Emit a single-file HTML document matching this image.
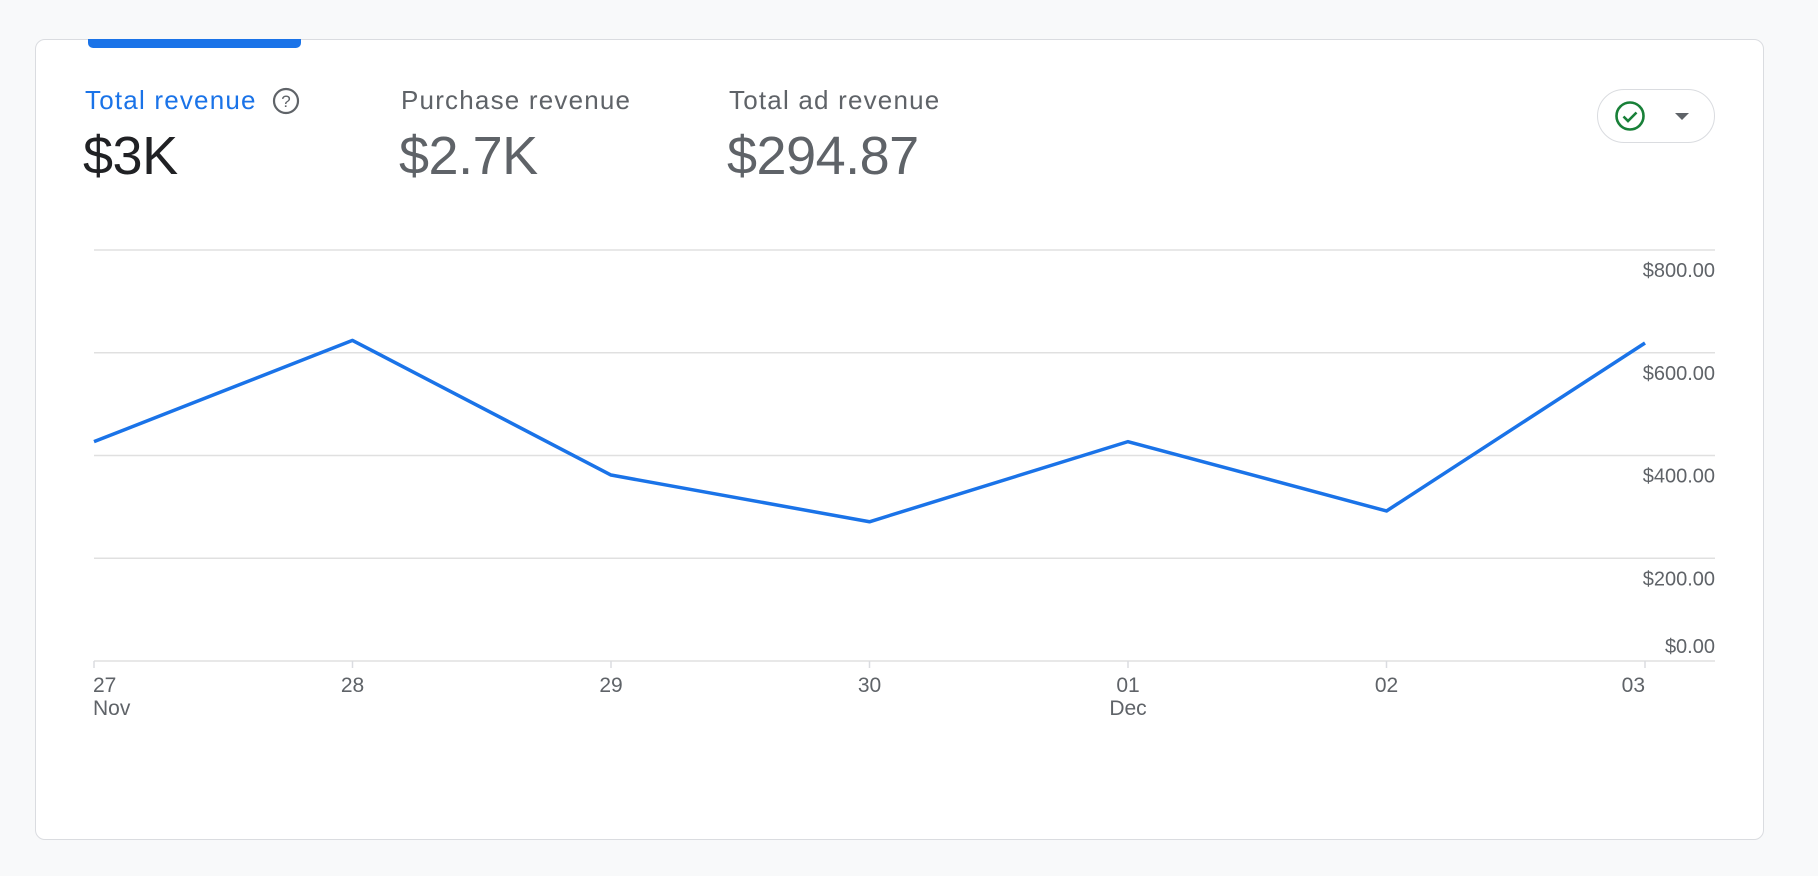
<!DOCTYPE html>
<html><head><meta charset="utf-8"><style>
body{margin:0;width:1818px;height:876px;background:#f8f9fa;font-family:"Liberation Sans",Arial,sans-serif;overflow:hidden;position:relative}
.card{position:absolute;left:35px;top:39px;width:1729px;height:801px;background:#fff;border:1px solid #dadce0;border-radius:10px;box-sizing:border-box}
.tab{position:absolute;left:88px;top:39px;width:213px;height:9px;background:#1a73e8;border-radius:0 0 5px 5px}
.lbl{position:absolute;font-size:26px;color:#5f6368;top:85px;letter-spacing:1.2px}
.val{position:absolute;font-size:54px;color:#5f6368;top:125px;letter-spacing:-0.5px}
</style></head><body>
<div class="card"></div>
<div class="tab"></div>
<div class="lbl" style="left:85px;color:#1a73e8">Total revenue</div>
<svg style="position:absolute;left:271px;top:86px" width="30" height="30"><circle cx="15" cy="15" r="12" fill="none" stroke="#5f6368" stroke-width="2.2"/><text x="15" y="21" font-size="17" text-anchor="middle" fill="#5f6368" font-family="Liberation Sans">?</text></svg>
<div class="val" style="left:83px;color:#202124">$3K</div>
<div class="lbl" style="left:401px">Purchase revenue</div>
<div class="val" style="left:399px">$2.7K</div>
<div class="lbl" style="left:729px">Total ad revenue</div>
<div class="val" style="left:727px">$294.87</div>
<div style="position:absolute;left:1597px;top:89px;width:118px;height:54px;border:1.5px solid #dadce0;border-radius:27px;box-sizing:border-box">
<svg style="position:absolute;left:16px;top:10px" width="32" height="32"><circle cx="16" cy="16" r="13.5" fill="none" stroke="#188038" stroke-width="2.6"/><path d="M9.5 16.5l4.5 4.5 8.5-8.5" fill="none" stroke="#188038" stroke-width="2.6"/></svg>
<svg style="position:absolute;left:76px;top:20px" width="16" height="12"><path d="M1 3h14l-7 7z" fill="#5f6368"/></svg>
</div>
<svg id="chart" style="position:absolute;left:0;top:0" width="1818" height="876"></svg>
<script>
const days=["27","28","29","30","01","02","03"];
const months=["Nov","","","","Dec","",""];
const revenue=[427,624,362,271,427,292,619];
const yTicks=[0,200,400,600,800];
const yTickLabels=["$0.00","$200.00","$400.00","$600.00","$800.00"];
const svg=document.getElementById('chart');const NS="http://www.w3.org/2000/svg";
const x0=94,x1=1645,yb=661,yt=250;
const X=i=>x0+i*(x1-x0)/(days.length-1);
const Y=v=>yb-v*(yb-yt)/800;
function mk(t,a,p){const e=document.createElementNS(NS,t);for(const k in a)e.setAttribute(k,a[k]);(p||svg).appendChild(e);return e;}
yTicks.forEach((v,i)=>{
const g=mk('line',{x1:x0,x2:1715,y1:Y(v),y2:Y(v),stroke:'#e0e0e0','stroke-width':1.5});


const t=mk('text',{x:1715,y:v===0?Y(v)-8:Y(v)+27,'text-anchor':'end','font-size':20,fill:'#5f6368','font-family':'Liberation Sans'});
t.textContent=yTickLabels[i];


});
days.forEach((d,i)=>{
const tk=mk('line',{x1:X(i),x2:X(i),y1:yb,y2:yb+7,stroke:'#dadce0','stroke-width':1.5});


const anchor=i===0?'start':(i===days.length-1?'end':'middle');
const t=mk('text',{x:i===0?X(i)-1:X(i),y:692,'text-anchor':anchor,'font-size':21,fill:'#5f6368','font-family':'Liberation Sans'});
t.textContent=d;


if(months[i]){const m=mk('text',{x:i===0?X(i)-1:X(i),y:715,'text-anchor':anchor,'font-size':21,fill:'#5f6368','font-family':'Liberation Sans'});
m.textContent=months[i];

}
});
const line=mk('polyline',{points:revenue.map((v,i)=>X(i)+','+Y(v)).join(' '),fill:'none',stroke:'#1a73e8','stroke-width':3.5,'stroke-linejoin':'round'});


</script>
</body></html>
